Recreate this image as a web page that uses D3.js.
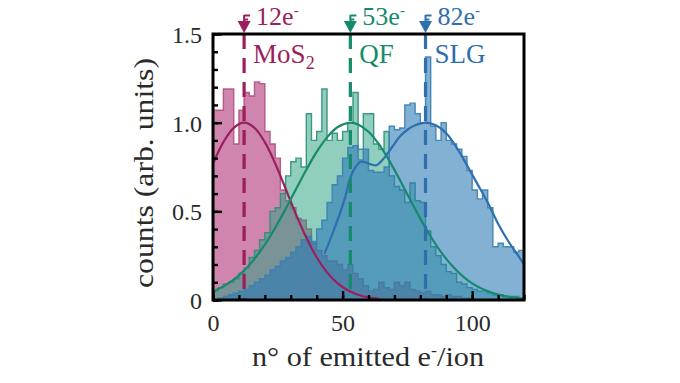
<!DOCTYPE html>
<html><head><meta charset="utf-8">
<script src="https://cdn.jsdelivr.net/npm/d3@7"></script>
<style>
html,body{margin:0;padding:0;background:#fff;}
svg{display:block;}
text{font-family:"Liberation Serif","Times New Roman",serif;}
</style></head>
<body>
<svg id="chart" width="680" height="383"></svg>
<script>
// ---------- data ----------
const binStarts = d3.range(0, 120, 2);   // histogram bin left edges (bin width 2)
const binWidth = 2;
const mos2Counts = [1.07,1.07,1.19,1.19,0.88,1.07,1.17,1.15,1.23,1.22,
  0.95,0.88,0.80,0.62,0.56,0.52,0.46,0.45,0.40,0.32,
  0.28,0.25,0.22,0.22,0.20,0.17,0.20,0.15,0.12,0.08,
  0.05,0.06,0.10,0.07,0.06,0.10,0.08,0.10,0.06,0.05,
  0.04,0.05,0.03,0.03,0.02,0.03,0.02,0.02,0.01,0.01,
  0,0,0,0,0,0,0,0,0,0];
const qfCounts = [0.05,0.07,0.09,0.10,0.12,0.15,0.18,0.24,0.28,0.34,
  0.38,0.50,0.52,0.60,0.70,0.78,0.80,0.75,1.05,0.90,
  0.95,1.19,0.90,0.94,0.90,0.95,1.00,1.17,0.85,1.05,
  1.05,0.88,0.85,0.95,0.70,0.64,0.62,0.55,0.66,0.56,
  0.55,0.39,0.30,0.25,0.20,0.16,0.15,0.10,0.09,0.07,
  0.06,0.05,0.05,0.04,0.03,0.03,0.02,0.02,0.02,0.01];
const slgCounts = [0.00,0.01,0.02,0.03,0.04,0.05,0.06,0.08,0.10,0.12,
  0.14,0.17,0.19,0.22,0.24,0.27,0.30,0.34,0.36,0.33,
  0.40,0.45,0.55,0.65,0.70,0.80,0.86,0.87,0.79,0.85,
  0.73,0.72,0.72,0.75,0.98,0.96,0.97,1.10,1.11,1.05,
  1.00,1.37,0.98,0.90,1.00,0.90,0.88,0.85,0.81,0.73,
  0.62,0.57,0.62,0.52,0.30,0.32,0.30,0.30,0.27,0.28];

// fitted curves
const mos2FitX = [0,4,8,12,16,20,24,28,32,36,40,44,48,52,56,60,64];
const mos2FitY = [0.77,0.89,0.971,1.0,0.971,0.89,0.77,0.628,0.484,0.352,0.241,0.156,0.095,0.055,0.030,0.015,0.007];
const qfFitX = [0,4,8,12,16,20,24,28,32,36,40,44,48,53,56,60,64,68,72,76,80,84,88,92,96,100,104,108,112,116,120];
const qfFitY = [0.05,0.077,0.115,0.166,0.232,0.312,0.407,0.513,0.624,0.734,0.835,0.917,0.974,1.0,0.99,0.949,0.879,0.786,0.68,0.568,0.459,0.358,0.27,0.197,0.139,0.094,0.062,0.039,0.024,0.014,0.008];
const slgFitX = [43,46,49,51,53,55,57,59,61,63,66,69,72,75,78,82,86,90,94,98,102,106,110,114,118,120];
const slgFitY = [0.26,0.37,0.49,0.58,0.69,0.75,0.78,0.775,0.765,0.76,0.80,0.86,0.92,0.96,0.985,1.0,0.985,0.94,0.86,0.76,0.655,0.55,0.43,0.33,0.245,0.2];

const peakPos = [12, 53, 82];
const peakLabels = ["12e", "53e", "82e"];
const seriesNames = ["MoS", "QF", "SLG"];

const xTicksMajor = [0, 50, 100];
const xTicksMinor = d3.range(0, 121, 10);
const yTicksMajor = [0, 0.5, 1.0, 1.5];
const yTickLabels = ["0", "0.5", "1.0", "1.5"];
const yTicksMinor = d3.range(0, 1.51, 0.1);

// ---------- styles ----------
const fillCols = ["#b13a7a", "#2aa283", "#2a78b5"];
const fillOp = [0.62, 0.52, 0.58];
const edgeCols = ["#b0507f", "#2f8f78", "#3a7fb0"];
const lineCols = ["#9a1f5c", "#168a6c", "#2e6fae"];

// ---------- layout ----------
const L = 213, R = 524, T = 34, B = 300;
const svg = d3.select("#chart");
const x = d3.scaleLinear().domain([0, 120]).range([L, R]);
const y = d3.scaleLinear().domain([0, 1.5]).range([B, T]);

svg.append("defs").append("clipPath").attr("id", "clip")
  .append("rect").attr("x", L).attr("y", T).attr("width", R - L).attr("height", B - T);
const plot = svg.append("g").attr("clip-path", "url(#clip)");

// histograms
const allCounts = [mos2Counts, qfCounts, slgCounts];
const area = d3.area().x(d => x(d[0])).y0(y(0)).y1(d => y(d[1])).curve(d3.curveStepAfter);
const line = d3.line().x(d => x(d[0])).y(d => y(d[1])).curve(d3.curveStepAfter);
allCounts.forEach((counts, i) => {
  const pts = binStarts.map((b, j) => [b, counts[j]]);
  pts.push([binStarts[binStarts.length - 1] + binWidth, counts[counts.length - 1]]);
  plot.append("path").attr("d", area(pts))
    .attr("fill", fillCols[i]).attr("fill-opacity", fillOp[i]);
  plot.append("path").attr("d", line(pts))
    .attr("fill", "none").attr("stroke", edgeCols[i]).attr("stroke-width", 1.4).attr("stroke-opacity", 0.9);
});

// fit curves
const fits = [[mos2FitX, mos2FitY], [qfFitX, qfFitY], [slgFitX, slgFitY]];
const fitLine = d3.line().x(d => x(d[0])).y(d => y(d[1])).curve(d3.curveCatmullRom);
fits.forEach((f, i) => {
  const pts = f[0].map((v, j) => [v, f[1][j]]);
  plot.append("path").attr("d", fitLine(pts))
    .attr("fill", "none").attr("stroke", lineCols[i]).attr("stroke-width", 2.2);
});

// dashed peak lines
peakPos.forEach((p, i) => {
  svg.append("line").attr("x1", x(p)).attr("x2", x(p)).attr("y1", T).attr("y2", B)
    .attr("stroke", lineCols[i]).attr("stroke-width", 3.2).attr("stroke-dasharray", "15,9");
  // top marker
  const cx = x(p);
  svg.append("path").attr("d", `M${cx-6.5},21 L${cx+6.5},21 L${cx},33 Z`).attr("fill", lineCols[i]);
  svg.append("path").attr("d", `M${cx},21 V15 M${cx},15.5 H${cx+6} M${cx},19.5 H${cx+4}`)
    .attr("stroke", lineCols[i]).attr("stroke-width", 2).attr("fill", "none");
  // value label
  const t = svg.append("text").attr("x", cx + 12).attr("y", 25)
    .attr("fill", lineCols[i]).attr("font-size", 26);
  t.append("tspan").text(peakLabels[i]);
  t.append("tspan").attr("dy", -10).attr("font-size", 15).text("-");
  // series name
  const s = svg.append("text").attr("x", cx + 9).attr("y", 63)
    .attr("fill", lineCols[i]).attr("font-size", 27);
  s.append("tspan").text(seriesNames[i]);
  if (i === 0) s.append("tspan").attr("dy", 6).attr("font-size", 18).text("2");
});

// axes ticks (inward)
const gx = svg.append("g").attr("transform", `translate(0,${B})`);
gx.call(d3.axisBottom(x).tickValues(xTicksMinor).tickSize(-5).tickFormat(""));
const gx2 = svg.append("g").attr("transform", `translate(0,${B})`);
gx2.call(d3.axisBottom(x).tickValues(xTicksMajor).tickSize(-9).tickPadding(14).tickFormat(d3.format("d")));
const gy = svg.append("g").attr("transform", `translate(${L},0)`);
gy.call(d3.axisLeft(y).tickValues(yTicksMinor).tickSize(-5).tickFormat(""));
const gy2 = svg.append("g").attr("transform", `translate(${L},0)`);
gy2.call(d3.axisLeft(y).tickValues(yTicksMajor).tickSize(-9).tickPadding(11)
  .tickFormat((d, i) => yTickLabels[i]));
[gx, gx2, gy, gy2].forEach(g => {
  g.select(".domain").remove();
  g.selectAll(".tick line").attr("stroke", "#000").attr("stroke-width", 2.4);
  g.selectAll(".tick text").attr("font-size", 24).attr("fill", "#2a2a2a")
    .attr("font-family", "Liberation Serif, serif");
});
gx2.selectAll(".tick text").attr("dy", "0.71em");
gy2.selectAll(".tick text").attr("dy", "0.36em");

// frame
svg.append("rect").attr("x", L).attr("y", T).attr("width", R - L).attr("height", B - T)
  .attr("fill", "none").attr("stroke", "#000").attr("stroke-width", 3);

// axis titles
const xt = svg.append("text").attr("x", 368).attr("y", 366).attr("text-anchor", "middle")
  .attr("font-size", 27).attr("fill", "#2a2a2a")
  .attr("textLength", 232).attr("lengthAdjust", "spacingAndGlyphs");
xt.append("tspan").text("n° of emitted e");
xt.append("tspan").attr("dy", -10).attr("font-size", 16).text("-");
xt.append("tspan").attr("dy", 10).text("/ion");

svg.append("text").attr("transform", "translate(153,173) rotate(-90)")
  .attr("text-anchor", "middle").attr("font-size", 27).attr("fill", "#2a2a2a")
  .attr("textLength", 230).attr("lengthAdjust", "spacingAndGlyphs")
  .text("counts (arb. units)");
</script>
</body></html>
